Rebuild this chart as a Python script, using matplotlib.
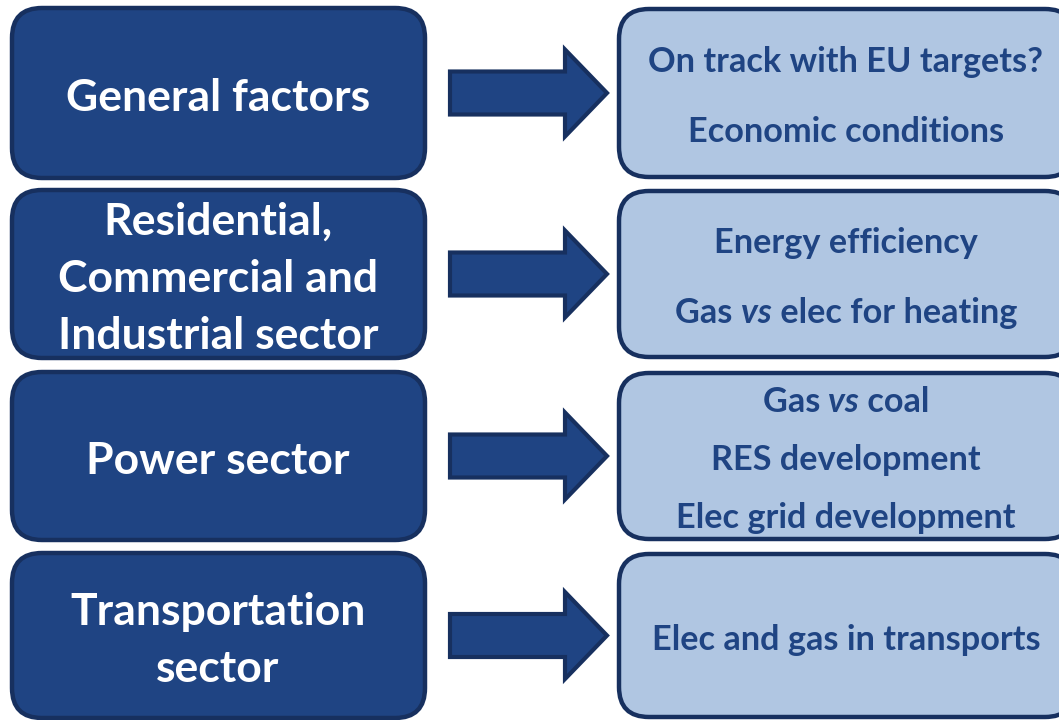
import matplotlib

matplotlib.use("Agg")
import matplotlib.pyplot as plt
from matplotlib.patches import FancyBboxPatch, Polygon


# Left column: sector names, one list of lines per row
SECTORS = [
    ["General factors"],
    ["Residential,", "Commercial and", "Industrial sector"],
    ["Power sector"],
    ["Transportation", "sector"],
]

# Right column: factors per row, each line as (text, italic) pieces
FACTORS = [
    [[("On track with EU targets?", False)], [("Economic conditions", False)]],
    [[("Energy efficiency", False)], [("Gas ", False), ("vs", True), (" elec for heating", False)]],
    [
        [("Gas ", False), ("vs", True), (" coal", False)],
        [("RES development", False)],
        [("Elec grid development", False)],
    ],
    [[("Elec and gas in transports", False)]],
]

ROW_TOPS = [8, 190, 372, 553]
ROW_BOTTOMS = [178, 358, 540, 718]

DARK = "#1f4483"
EDGE = "#17305f"
LIGHT = "#b0c6e2"
FONT = "Lato"


def rounded_box(ax, x0, x1, y0, y1, face):
    box = FancyBboxPatch(
        (x0, y0),
        x1 - x0,
        y1 - y0,
        boxstyle="round,pad=0,rounding_size=30",
        facecolor=face,
        edgecolor=EDGE,
        linewidth=3.2,
    )
    ax.add_patch(box)


def draw_arrow(ax, yc):
    pts = [
        (450, yc - 21.5),
        (565, yc - 21.5),
        (565, yc - 43.5),
        (607, yc),
        (565, yc + 43.5),
        (565, yc + 21.5),
        (450, yc + 21.5),
    ]
    ax.add_patch(Polygon(pts, closed=True, facecolor=DARK, edgecolor=EDGE, linewidth=3.0, joinstyle="miter"))


def mixed_line(ax, renderer, xc, y, pieces, size, color):
    texts = []
    for txt, italic in pieces:
        t = ax.text(0, y, txt, fontsize=size, fontfamily=FONT, fontweight="bold",
                    fontstyle="italic" if italic else "normal", color=color,
                    ha="left", va="center")
        texts.append(t)
    inv = ax.transData.inverted()
    widths = []
    for t in texts:
        bb = t.get_window_extent(renderer=renderer)
        p0 = inv.transform((bb.x0, bb.y0))
        p1 = inv.transform((bb.x1, bb.y0))
        widths.append(p1[0] - p0[0])
    x = xc - sum(widths) / 2
    for t, w in zip(texts, widths):
        t.set_x(x)
        x += w


def plot(out_path):
    fig = plt.figure(figsize=(10.59, 7.2), dpi=100)
    ax = fig.add_axes([0, 0, 1, 1])
    ax.set_xlim(0, 1059)
    ax.set_ylim(720, 0)
    ax.axis("off")
    renderer = fig.canvas.get_renderer()

    left_spacing = 57
    right_spacing = {2: 70, 3: 58}

    for i, (top, bottom) in enumerate(zip(ROW_TOPS, ROW_BOTTOMS)):
        yc = (top + bottom) / 2
        rounded_box(ax, 12, 425, top, bottom, DARK)
        rounded_box(ax, 619, 1075, top + 1, bottom - 1, LIGHT)
        draw_arrow(ax, yc)

        lines = SECTORS[i]
        n = len(lines)
        for k, line in enumerate(lines):
            y = yc + (k - (n - 1) / 2) * left_spacing
            ax.text(218, y + 5, line, fontsize=32, fontfamily=FONT, fontweight="bold",
                    color="white", ha="center", va="center")

        flines = FACTORS[i]
        m = len(flines)
        sp = right_spacing.get(m, 0)
        for k, pieces in enumerate(flines):
            y = yc + (k - (m - 1) / 2) * sp
            mixed_line(ax, renderer, 846, y + 4, pieces, 24.7, DARK)

    fig.savefig(out_path, dpi=100)
    plt.close(fig)


if __name__ == "__main__":
    plot("out.png")
